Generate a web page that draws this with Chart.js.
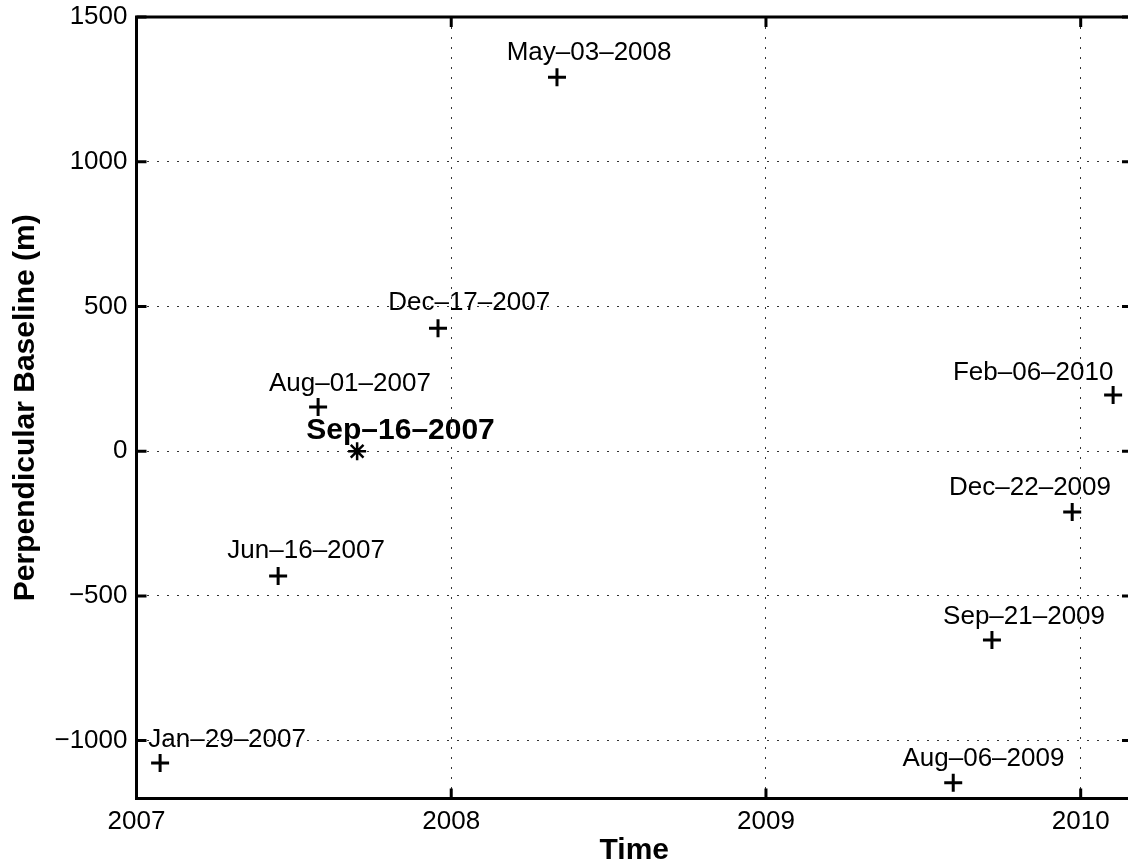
<!DOCTYPE html>
<html>
<head>
<meta charset="utf-8">
<script src="https://cdn.jsdelivr.net/npm/chart.js@4.4.1/dist/chart.umd.min.js"></script>
<style>
  html, body { margin: 0; padding: 0; background: #fff; overflow: hidden; }
  #wrap { position: relative; width: 1144px; height: 866px; }
  #cv { display: block; width: 1144px; height: 866px; }
</style>
</head>
<body>
<div id="wrap"><canvas id="cv" width="1144" height="866"></canvas></div>
<script>
// acquisition dates (slaves) and their perpendicular baselines (m)
const slaveDates = ['Jan–29–2007', 'Jun–16–2007', 'Aug–01–2007', 'Dec–17–2007', 'May–03–2008',
                    'Aug–06–2009', 'Sep–21–2009', 'Dec–22–2009', 'Feb–06–2010'];
const slaveYears = [2007.075, 2007.450, 2007.577, 2007.958, 2008.336,
                    2009.595, 2009.718, 2009.973, 2010.103];
const slaveBperp = [-1077, -431, 153, 425, 1292, -1146, -652, -210, 194];

// master acquisition
const masterDate = 'Sep–16–2007';
const masterYear = 2007.701;
const masterBperp = 0;

// where each date label sits (data coords, label centre)
const labelYears = [2007.288, 2007.539, 2007.678, 2008.057, 2008.438, 2009.691, 2009.820, 2009.839, 2009.849];
const labelBperp = [-996, -345, 232, 512, 1375, -1063, -573, -127, 270];
const masterLabelAt = [2007.839, 71];

const xTicks = [2007, 2008, 2009, 2010];
const yTicks = [-1000, -500, 0, 500, 1000, 1500];
const xRange = [2007, 2010.163];
const yRange = [-1200, 1500];

const FONT = '"Liberation Sans", Arial, Helvetica, sans-serif';

// box + inward ticks (matlab style) and the date labels
const matlabAxes = {
  id: 'matlabAxes',
  afterDatasetsDraw(chart) {
    const { ctx, chartArea: a, scales: { x, y } } = chart;
    ctx.save();
    ctx.fillStyle = '#000';
    ctx.textAlign = 'center';
    ctx.textBaseline = 'middle';
    ctx.font = '26px ' + FONT;
    slaveDates.forEach((d, i) => {
      ctx.fillText(d, x.getPixelForValue(labelYears[i]), y.getPixelForValue(labelBperp[i]));
    });
    ctx.font = 'bold 30px ' + FONT;
    ctx.fillText(masterDate, x.getPixelForValue(masterLabelAt[0]), y.getPixelForValue(masterLabelAt[1]));

    ctx.strokeStyle = '#000';
    ctx.lineWidth = 3;
    ctx.strokeRect(a.left, a.top, a.right - a.left, a.bottom - a.top);
    const tl = 10;
    ctx.beginPath();
    xTicks.forEach(v => {
      const px = x.getPixelForValue(v);
      ctx.moveTo(px, a.bottom); ctx.lineTo(px, a.bottom - tl);
      ctx.moveTo(px, a.top); ctx.lineTo(px, a.top + tl);
    });
    yTicks.forEach(v => {
      const py = y.getPixelForValue(v);
      ctx.moveTo(a.left, py); ctx.lineTo(a.left + tl, py);
      ctx.moveTo(a.right, py); ctx.lineTo(a.right - tl, py);
    });
    ctx.stroke();
    ctx.restore();
  }
};

const gridOpts = { color: '#333', lineWidth: 1, drawTicks: false };
const borderOpts = { display: false, dash: [2, 8] };
const noPad = s => { s.paddingTop = 0; s.paddingBottom = 0; s.paddingLeft = 0; s.paddingRight = 0; };

new Chart(document.getElementById('cv'), {
  type: 'scatter',
  data: {
    datasets: [
      {
        data: slaveYears.map((v, i) => ({ x: v, y: slaveBperp[i] })),
        pointStyle: 'cross', radius: 9, borderWidth: 3, borderColor: '#000', backgroundColor: '#000'
      },
      {
        data: [{ x: masterYear, y: masterBperp }],
        pointStyle: 'star', radius: 9, borderWidth: 2.5, borderColor: '#000', backgroundColor: '#000'
      }
    ]
  },
  options: {
    responsive: false,
    animation: false,
    events: [],
    // point overflow (~12px) sets the right edge: 1144 - 12 = 1132
    layout: { padding: { left: 0, right: 8, top: 17, bottom: 0 } },
    plugins: { legend: { display: false }, tooltip: { enabled: false } },
    scales: {
      x: {
        type: 'linear', min: xRange[0], max: xRange[1],
        afterBuildTicks: s => { s.ticks = xTicks.map(v => ({ value: v })); },
        afterFit: s => { s.height = 67.5; noPad(s); },
        grid: gridOpts, border: borderOpts,
        ticks: { color: '#000', padding: 8, maxRotation: 0, font: { family: FONT, size: 26 }, callback: v => String(v) },
        title: { display: true, text: 'Time', color: '#000', padding: { top: 0, bottom: 0 },
                 font: { family: FONT, size: 30, weight: 'bold', lineHeight: 1 } }
      },
      y: {
        type: 'linear', min: yRange[0], max: yRange[1],
        afterBuildTicks: s => { s.ticks = yTicks.map(v => ({ value: v })); },
        afterFit: s => { s.width = 136.5; noPad(s); },
        grid: gridOpts, border: borderOpts,
        ticks: { color: '#000', padding: 9, font: { family: FONT, size: 26 },
                 callback: v => v < 0 ? '−' + Math.abs(v) : String(v) },
        title: { display: true, text: 'Perpendicular Baseline (m)', color: '#000', padding: { top: 11, bottom: 0 },
                 font: { family: FONT, size: 30, weight: 'bold', lineHeight: 1 } }
      }
    }
  },
  plugins: [matlabAxes]
});
</script>
</body>
</html>
